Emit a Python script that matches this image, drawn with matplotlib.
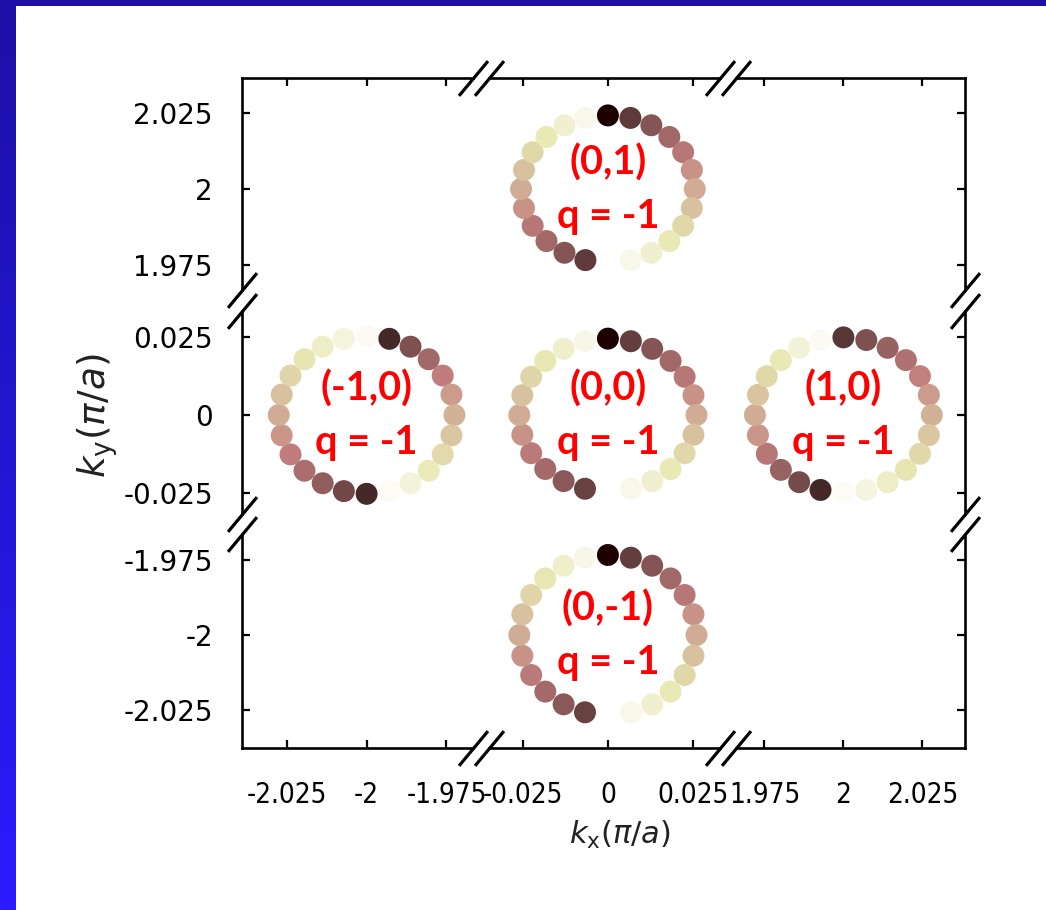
import numpy as np
import matplotlib
matplotlib.use('Agg')
import matplotlib.pyplot as plt
from matplotlib import font_manager as fm

W, H = 1046, 910
plt.rcParams['font.family'] = ['DejaVu Sans']
plt.rcParams['mathtext.fontset'] = 'dejavusans'

# broken axes: three columns in kx, three rows in ky
kx_ticks = [[-2.025, -2, -1.975], [-0.025, 0, 0.025], [1.975, 2, 2.025]]
kx_ticklabels = [['-2.025', '-2', '-1.975'], ['-0.025', '0', '0.025'], ['1.975', '2', '2.025']]
ky_ticks = [[1.975, 2, 2.025], [-0.025, 0, 0.025], [-2.025, -2, -1.975]]
ky_ticklabels = [['1.975', '2', '2.025'], ['-0.025', '0', '0.025'], ['-2.025', '-2', '-1.975']]

# rings of k-points around each reciprocal lattice point
ring_names = ['(0,1)', '(-1,0)', '(0,0)', '(1,0)', '(0,-1)']
ring_charge = [-1, -1, -1, -1, -1]
ring_kx = [0, -2, 0, 2, 0]
ring_ky = [2, 0, 0, 0, -2]
ring_rx = [0.0255, 0.0275, 0.026, 0.028, 0.026]
ring_ry = [0.0242, 0.0254, 0.0246, 0.025, 0.0267]

# angle of each point, degrees clockwise from +ky
ring_angles = [
    [0, 15, 30, 45, 60, 75, 90, 105, 120, 135, 150, 165,
     195, 210, 225, 240, 255, 270, 285, 300, 315, 330, 345],
    [0, 15, 30, 45, 60, 75, 90, 105, 120, 135, 150, 165,
     180, 195, 210, 225, 240, 255, 270, 285, 300, 315, 330, 345],
    [0, 15, 30, 45, 60, 75, 90, 105, 120, 135, 150, 165,
     195, 210, 225, 240, 255, 270, 285, 300, 315, 330, 345],
    [0, 15, 30, 45, 60, 75, 90, 105, 120, 135, 150, 165,
     180, 195, 210, 225, 240, 255, 270, 285, 300, 315, 330, 345],
    [0, 15, 30, 45, 60, 75, 90, 105, 120, 135, 150, 165,
     195, 210, 225, 240, 255, 270, 285, 300, 315, 330, 345],
]
# pseudospin phase of each point (0..1 over half a turn)
ring_phase = [
    [0.0, 0.08, 0.17, 0.25, 0.33, 0.42, 0.5, 0.58, 0.67, 0.75, 0.83, 0.92,
     0.08, 0.17, 0.25, 0.33, 0.42, 0.5, 0.58, 0.67, 0.75, 0.83, 0.92],
    [0.95, 0.04, 0.15, 0.25, 0.36, 0.45, 0.52, 0.6, 0.68, 0.76, 0.86, 0.96,
     0.04, 0.12, 0.2, 0.28, 0.36, 0.43, 0.5, 0.58, 0.66, 0.73, 0.8, 0.87],
    [0.0, 0.09, 0.17, 0.25, 0.33, 0.42, 0.5, 0.58, 0.67, 0.75, 0.83, 0.92,
     0.1, 0.18, 0.26, 0.34, 0.42, 0.5, 0.58, 0.66, 0.74, 0.82, 0.91],
    [0.07, 0.15, 0.22, 0.3, 0.37, 0.45, 0.52, 0.6, 0.67, 0.73, 0.8, 0.88,
     0.96, 0.04, 0.13, 0.22, 0.33, 0.43, 0.5, 0.59, 0.67, 0.75, 0.85, 0.95],
    [0.0, 0.09, 0.17, 0.25, 0.33, 0.42, 0.5, 0.58, 0.67, 0.75, 0.83, 0.92,
     0.1, 0.18, 0.26, 0.34, 0.42, 0.5, 0.58, 0.66, 0.74, 0.82, 0.91],
]


def narrow_font():
    # the kx tick labels are packed tight, so prefer a narrow face if one exists
    for fam, st in [('Liberation Sans Narrow', 'normal'),
                    ('DejaVu Sans Condensed', 'normal'),
                    ('DejaVu Sans', 'condensed')]:
        try:
            path = fm.findfont(fm.FontProperties(family=fam, stretch=st),
                               fallback_to_default=False)
        except ValueError:
            continue
        if 'Narrow' in path or 'Condensed' in path:
            return path
    return None


narrow = narrow_font()
if narrow:
    xtick_font = fm.FontProperties(fname=narrow, size=20)
else:
    xtick_font = fm.FontProperties(family=['Liberation Sans', 'DejaVu Sans'], size=18.5)

fig = plt.figure(figsize=(W / 100, H / 100), dpi=100)
fig.patch.set_facecolor('white')

# slide frame: dark blue strip on top, blue gradient down the left edge
top = fig.add_axes([0, 1 - 6 / H, 1, 6 / H])
top.axis('off')
top.add_patch(plt.Rectangle((0, 0), 1, 1, color='#1d10a6', transform=top.transAxes))
left = fig.add_axes([0, 0, 16 / W, 1])
grad = np.linspace(0, 1, 256)[:, None]
left.imshow(grad, aspect='auto', origin='lower', extent=[0, 1, 0, 1],
            cmap=matplotlib.colors.LinearSegmentedColormap.from_list('edge', ['#2a1cff', '#1d10a6']))
left.axis('off')

col_px = [(242, 473), (489, 720), (736, 965)]
row_px = [(78, 290), (311, 514), (534, 748)]
kx_lim = [(-2.039, -1.9667), (-0.0349, 0.0329), (1.966, 2.0385)]
ky_lim = [(1.9668, 2.0365), (-0.0319, 0.0335), (-2.0377, -1.9663)]

slash = dict(marker=[(-1, -1.2), (1, 1.2)], markersize=25, mew=2.3,
             color='black', linestyle='none', clip_on=False)

axes = {}
for r, (y0, y1) in enumerate(row_px):
    for c, (x0, x1) in enumerate(col_px):
        ax = fig.add_axes([x0 / W, 1 - y1 / H, (x1 - x0) / W, (y1 - y0) / H])
        ax.set_xlim(kx_lim[c])
        ax.set_ylim(ky_lim[r])
        ax.patch.set_alpha(0)
        for s in ax.spines.values():
            s.set_linewidth(1.9)
        ax.spines['top'].set_visible(r == 0)
        ax.spines['bottom'].set_visible(r == 2)
        ax.spines['left'].set_visible(c == 0)
        ax.spines['right'].set_visible(c == 2)
        ax.set_xticks(kx_ticks[c])
        ax.set_yticks(ky_ticks[r])
        ax.tick_params(direction='in', length=5.5, width=1.6,
                       top=(r == 0), bottom=(r == 2), left=(c == 0), right=(c == 2),
                       labeltop=False, labelright=False,
                       labelbottom=(r == 2), labelleft=(c == 0))
        ax.tick_params(axis='x', pad=24)
        ax.tick_params(axis='y', pad=21)
        if r == 2:
            ax.set_xticklabels(kx_ticklabels[c], fontproperties=xtick_font)
        if c == 0:
            ax.set_yticklabels(ky_ticklabels[r], fontsize=20)

        # break marks where the frame is interrupted
        if r == 0 and c < 2:
            ax.plot([1], [1], transform=ax.transAxes, **slash)
        if r == 0 and c > 0:
            ax.plot([0], [1], transform=ax.transAxes, **slash)
        if r == 2 and c < 2:
            ax.plot([1], [0], transform=ax.transAxes, **slash)
        if r == 2 and c > 0:
            ax.plot([0], [0], transform=ax.transAxes, **slash)
        if c == 0 and r < 2:
            ax.plot([0], [0], transform=ax.transAxes, **slash)
        if c == 0 and r > 0:
            ax.plot([0], [1], transform=ax.transAxes, **slash)
        if c == 2 and r < 2:
            ax.plot([1], [0], transform=ax.transAxes, **slash)
        if c == 2 and r > 0:
            ax.plot([1], [1], transform=ax.transAxes, **slash)
        axes[(r, c)] = ax

col_of = {-2: 0, 0: 1, 2: 2}
row_of = {2: 0, 0: 1, -2: 2}
for name, q, cx, cy, rx, ry, ang, ph in zip(ring_names, ring_charge, ring_kx, ring_ky,
                                          ring_rx, ring_ry, ring_angles, ring_phase):
    ax = axes[(row_of[cy], col_of[cx])]
    t = np.deg2rad(ang)
    ax.scatter(cx + rx * np.sin(t), cy + ry * np.cos(t), c=ph, cmap='pink',
               vmin=0, vmax=1, s=250, linewidths=0, zorder=3, clip_on=False)
    lab = dict(ha='center', va='center', color='red', fontsize=28.5,
               fontweight='bold', family=['Lato', 'DejaVu Sans'],
               textcoords='offset points', zorder=4)
    ax.annotate(name, (cx, cy), xytext=(0, 19), **lab)
    ax.annotate(f'q = {q}', (cx, cy), xytext=(0, -19.5), **lab)

fig.text(620 / W, 1 - 835 / H, r'$k_{\mathrm{x}}(\pi/a)$', ha='center', va='center',
         fontsize=22, color='#222222')
fig.text(98 / W, 1 - 416 / H, r'$k_{\mathrm{y}}(\pi/a)$', ha='center', va='center',
         fontsize=27, color='#222222', rotation=90)

fig.savefig('out.png', dpi=100, facecolor='white')
